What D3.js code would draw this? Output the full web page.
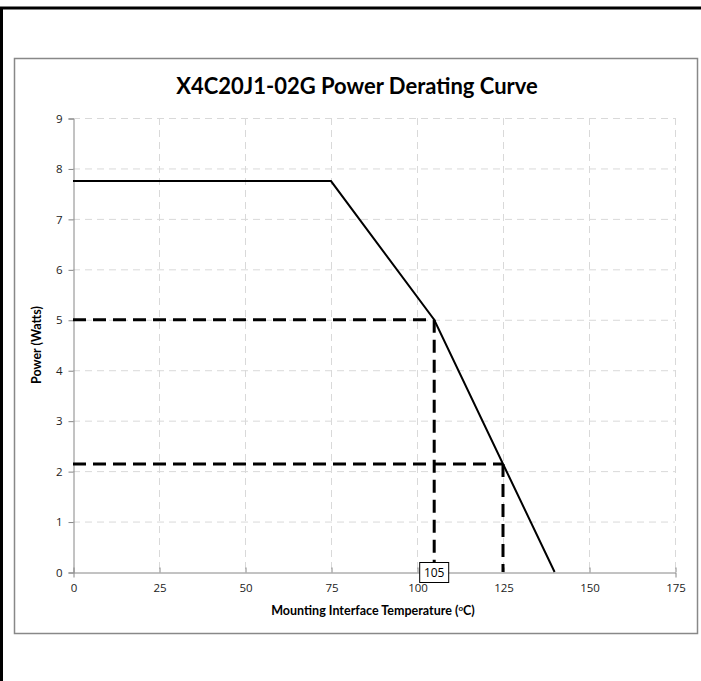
<!DOCTYPE html>
<html>
<head>
<meta charset="utf-8">
<script src="https://cdn.jsdelivr.net/npm/d3@7"></script>
<style>
  body { margin: 0; background: #fff; }
  svg { display: block; font-family: Lato, "Open Sans", sans-serif; }
</style>
</head>
<body>
<div id="chart"></div>
<script>
// derating curve (temperature degC, power W)
const curveTemp = [0, 75, 105, 140];
const curvePower = [7.75, 7.75, 5.0, 0];
// dashed guide points
const guideTemp = [105, 125];
const guidePower = [5.0, 2.14];
const xTicks = [0, 25, 50, 75, 100, 125, 150, 175];
const yTicks = [0, 1, 2, 3, 4, 5, 6, 7, 8, 9];
const markLabel = '105';

const W = 701, H = 681;
const m = { left: 73, right: 675, top: 118, bottom: 572 };

const svg = d3.select('#chart').append('svg').attr('width', W).attr('height', H);

// outer frame
svg.append('path').attr('d', `M1.5 ${H} L1.5 8 L${W} 8`)
    .attr('fill', 'none').attr('stroke', '#000').attr('stroke-width', 3);

// chart area box
svg.append('rect').attr('x', 14.5).attr('y', 58.5).attr('width', 683).attr('height', 575)
    .attr('fill', '#fff').attr('stroke', '#888').attr('stroke-width', 1.5);

const x = d3.scaleLinear().domain([0, 175]).range([m.left, m.right]);
const y = d3.scaleLinear().domain([0, 9]).range([m.bottom, m.top]);

// grid
svg.append('g').selectAll('line').data(yTicks.slice(1)).join('line')
    .attr('x1', m.left).attr('x2', m.right)
    .attr('y1', d => y(d) + 0.5).attr('y2', d => y(d) + 0.5)
    .attr('stroke', '#d9d9d9').attr('stroke-dasharray', '7,5');
svg.append('g').selectAll('line').data(xTicks.slice(1)).join('line')
    .attr('y1', m.top).attr('y2', m.bottom)
    .attr('x1', d => x(d) + 0.5).attr('x2', d => x(d) + 0.5)
    .attr('stroke', '#d9d9d9').attr('stroke-dasharray', '7,5');

// axes
const xAxis = svg.append('g').attr('transform', `translate(0.5,${m.bottom + 0.5})`)
    .call(d3.axisBottom(x).tickValues(xTicks).tickSize(5).tickPadding(6));
const yAxis = svg.append('g').attr('transform', `translate(${m.left + 0.5},0.5)`)
    .call(d3.axisLeft(y).tickValues(yTicks).tickSize(5).tickPadding(6));
[xAxis, yAxis].forEach(a => {
    a.select('.domain').attr('stroke', '#868686');
    a.selectAll('.tick line').attr('stroke', '#868686');
    a.selectAll('text').attr('fill', '#222').style('font-size', '11.5px')
        .style('font-family', '"Open Sans", sans-serif');
});
xAxis.selectAll('.tick line').attr('y1', -5).attr('y2', 0);

// dashed guides
guideTemp.forEach((t, i) => {
    const p = guidePower[i];
    svg.append('path')
        .attr('d', d3.line()([[x(0), y(p)], [x(t), y(p)]]))
        .attr('stroke', '#000').attr('stroke-width', 3).attr('stroke-dasharray', '13,7').attr('fill', 'none');
    svg.append('path')
        .attr('d', d3.line()([[x(t), y(p)], [x(t), y(0)]]))
        .attr('stroke', '#000').attr('stroke-width', 3).attr('stroke-dasharray', '13,7').attr('fill', 'none');
});

// curve
const pts = curveTemp.map((t, i) => [x(t), y(curvePower[i])]);
svg.append('path').attr('d', d3.line()(pts))
    .attr('fill', 'none').attr('stroke', '#000').attr('stroke-width', 2);

// data label box
const lx = x(+markLabel), ly = y(0);
const lbl = svg.append('g');
lbl.append('rect').attr('x', lx - 14.5).attr('y', ly - 9.5).attr('width', 29).attr('height', 20)
    .attr('fill', '#fff').attr('stroke', '#000').attr('stroke-width', 1);
lbl.append('text').attr('x', lx).attr('y', ly + 5).attr('text-anchor', 'middle')
    .style('font-size', '12px').style('font-family', '"Open Sans", sans-serif').text(markLabel);

// title
svg.append('text').attr('x', 357).attr('y', 94).attr('text-anchor', 'middle')
    .style('font-size', '22px').style('font-weight', 'bold').text('X4C20J1-02G Power Derating Curve');

// axis titles
const xt = svg.append('text').attr('x', 373).attr('y', 615).attr('text-anchor', 'middle')
    .style('font-size', '12.5px').style('font-weight', 'bold');
xt.append('tspan').text('Mounting Interface Temperature (');
xt.append('tspan').attr('dy', -4).style('font-size', '8px').text('o');
xt.append('tspan').attr('dy', 4).text('C)');

svg.append('text').attr('transform', `translate(41,345) rotate(-90)`).attr('text-anchor', 'middle')
    .style('font-size', '12.5px').style('font-weight', 'bold').text('Power (Watts)');
</script>
</body>
</html>
